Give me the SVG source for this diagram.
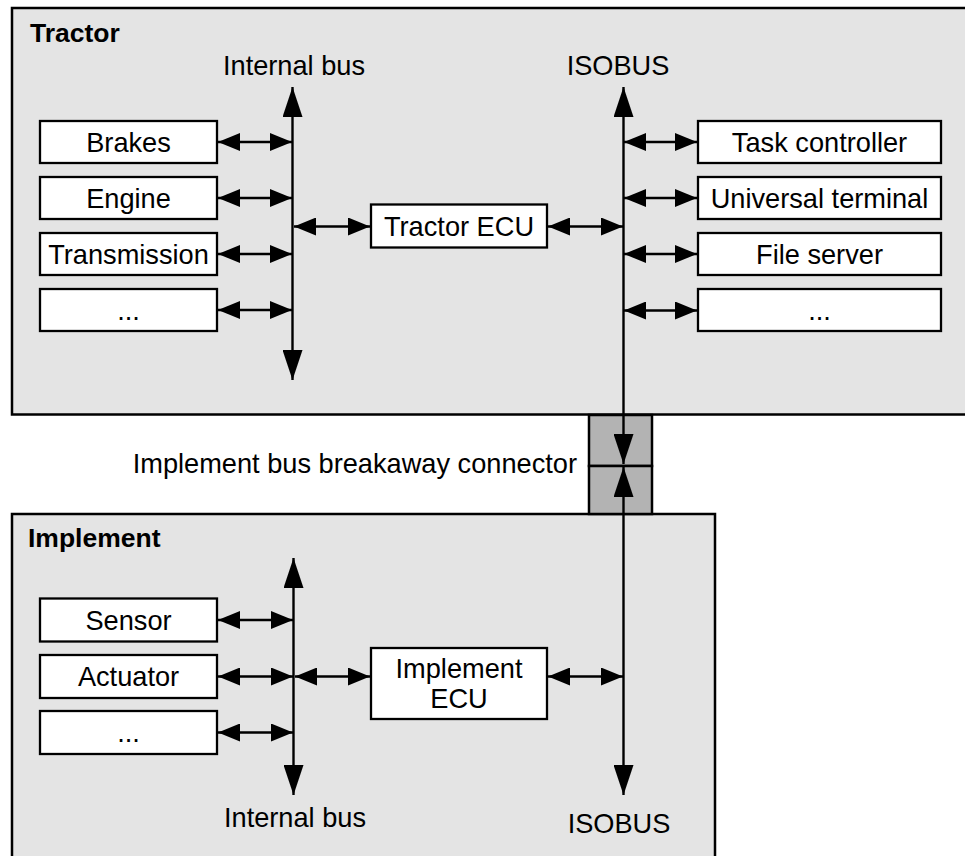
<svg xmlns="http://www.w3.org/2000/svg" width="965" height="856" viewBox="0 0 965 856">
  <defs>
    <style>
      .area { fill: #e4e4e4; stroke: #000; stroke-width: 2.5; }
      .node rect { fill: #fff; stroke: #000; stroke-width: 2.3; }
      .plug { fill: #b3b3b3; stroke: #000; stroke-width: 2.5; }
      text { font-family: "Liberation Sans", Arial, sans-serif; font-size: 27.2px; fill: #000; }
      .title { font-weight: bold; font-size: 26.5px; }
      .mid { text-anchor: middle; }
      .link { stroke: #000; stroke-width: 2.4; fill: none; marker-start: url(#tip); marker-end: url(#tip); }
      .bus { stroke: #000; stroke-width: 2.4; fill: none; }
    </style>
    <marker id="tip" markerUnits="userSpaceOnUse" markerWidth="22" markerHeight="18" refX="22" refY="9" orient="auto-start-reverse">
      <path d="M0,0 L22,9 L0,18 z" fill="#000"/>
    </marker>
    <marker id="bigtip" markerUnits="userSpaceOnUse" markerWidth="30" markerHeight="20" refX="30" refY="10" orient="auto-start-reverse">
      <path d="M0,0 L30,10 L0,20 z" fill="#000"/>
    </marker>
  </defs>

  <rect width="965" height="856" fill="#fff"/>

  <!-- tractor and implement areas -->
  <g id="tractor">
    <rect class="area" x="12" y="8" width="970" height="406.5"/>
    <text class="title" x="30" y="42">Tractor</text>
  </g>
  <g id="implement">
    <rect class="area" x="12" y="514" width="703" height="360"/>
    <text class="title" x="28" y="547">Implement</text>
  </g>

  <!-- breakaway connector -->
  <g id="breakaway">
    <rect class="plug" x="589" y="415" width="63" height="51"/>
    <rect class="plug" x="589" y="466" width="63" height="48"/>
    <text x="577" y="473" text-anchor="end">Implement bus breakaway connector</text>
  </g>

  <!-- tractor nodes -->
  <g id="brakes" class="node"><rect x="40" y="121" width="177" height="42"/><text class="mid" x="128.5" y="151.5">Brakes</text></g>
  <g id="engine" class="node"><rect x="40" y="177" width="177" height="42"/><text class="mid" x="128.5" y="207.5">Engine</text></g>
  <g id="transmission" class="node"><rect x="40" y="233" width="177" height="42"/><text class="mid" x="128.5" y="263.5">Transmission</text></g>
  <g id="tractor-more" class="node"><rect x="40" y="289" width="177" height="42"/><text class="mid" x="128.5" y="319.5">...</text></g>
  <g id="tractor-ecu" class="node"><rect x="371" y="204.5" width="176" height="43"/><text class="mid" x="459" y="235.5">Tractor ECU</text></g>
  <g id="task-controller" class="node"><rect x="698" y="121" width="243" height="42"/><text class="mid" x="819.5" y="151.5">Task controller</text></g>
  <g id="universal-terminal" class="node"><rect x="698" y="177" width="243" height="42"/><text class="mid" x="819.5" y="207.5">Universal terminal</text></g>
  <g id="file-server" class="node"><rect x="698" y="233" width="243" height="42"/><text class="mid" x="819.5" y="263.5">File server</text></g>
  <g id="isobus-more" class="node"><rect x="698" y="289" width="243" height="42"/><text class="mid" x="819.5" y="319.5">...</text></g>

  <!-- implement nodes -->
  <g id="sensor" class="node"><rect x="40" y="598.5" width="177" height="43"/><text class="mid" x="128.5" y="629.5">Sensor</text></g>
  <g id="actuator" class="node"><rect x="40" y="655" width="177" height="43"/><text class="mid" x="128.5" y="686">Actuator</text></g>
  <g id="implement-more" class="node"><rect x="40" y="711" width="177" height="43"/><text class="mid" x="128.5" y="742">...</text></g>
  <g id="implement-ecu" class="node"><rect x="371" y="648" width="176" height="71"/><text class="mid" x="459" y="678">Implement</text><text class="mid" x="459" y="708">ECU</text></g>

  <!-- bus labels -->
  <g id="bus-labels">
    <text class="mid" x="294" y="75">Internal bus</text>
    <text class="mid" x="618" y="75">ISOBUS</text>
    <text class="mid" x="295" y="827">Internal bus</text>
    <text class="mid" x="619" y="833">ISOBUS</text>
  </g>

  <!-- connectors -->
  <g id="connectors">
    <!-- buses -->
    <line class="bus" x1="292.5" y1="87" x2="292.5" y2="380" marker-start="url(#bigtip)" marker-end="url(#bigtip)"/>
    <line class="bus" x1="623.5" y1="87" x2="623.5" y2="464" marker-start="url(#bigtip)" marker-end="url(#bigtip)"/>
    <line class="bus" x1="623.5" y1="467" x2="623.5" y2="795" marker-start="url(#bigtip)" marker-end="url(#bigtip)"/>
    <line class="bus" x1="293.5" y1="558" x2="293.5" y2="795" marker-start="url(#bigtip)" marker-end="url(#bigtip)"/>

    <!-- tractor internal bus links -->
    <line class="link" x1="218" y1="142" x2="292" y2="142"/>
    <line class="link" x1="218" y1="198" x2="292" y2="198"/>
    <line class="link" x1="218" y1="254" x2="292" y2="254"/>
    <line class="link" x1="218" y1="310" x2="292" y2="310"/>
    <line class="link" x1="294" y1="226.5" x2="370" y2="226.5"/>

    <!-- tractor isobus links -->
    <line class="link" x1="548" y1="226.5" x2="623" y2="226.5"/>
    <line class="link" x1="624" y1="142" x2="697" y2="142"/>
    <line class="link" x1="624" y1="198" x2="697" y2="198"/>
    <line class="link" x1="624" y1="254" x2="697" y2="254"/>
    <line class="link" x1="624" y1="310.5" x2="697" y2="310.5"/>

    <!-- implement links -->
    <line class="link" x1="218" y1="620" x2="293" y2="620"/>
    <line class="link" x1="218" y1="676.5" x2="293" y2="676.5"/>
    <line class="link" x1="218" y1="732.5" x2="293" y2="732.5"/>
    <line class="link" x1="295" y1="676.5" x2="370" y2="676.5"/>
    <line class="link" x1="548" y1="676.5" x2="623" y2="676.5"/>
  </g>
</svg>
